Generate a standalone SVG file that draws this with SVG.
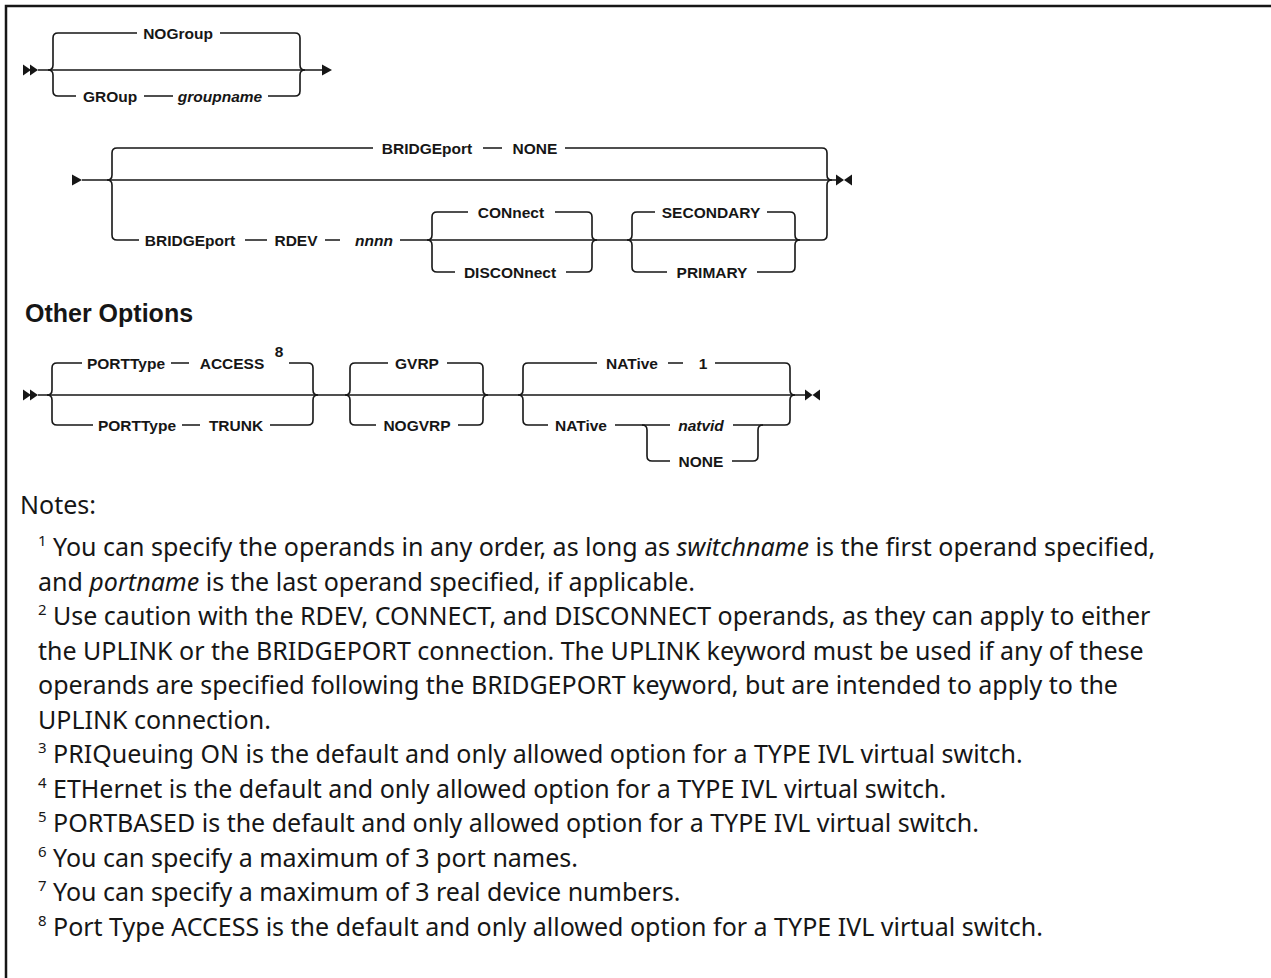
<svg xmlns="http://www.w3.org/2000/svg" width="1271" height="978" viewBox="0 0 1271 978">
<style>
.ln{fill:none;stroke:#161616;stroke-width:1.6}
.bd{fill:none;stroke:#161616;stroke-width:2.5}
.ah{fill:#161616}
.kw{font-family:"Liberation Sans",Arial,sans-serif;font-weight:bold;font-size:15.5px;fill:#161616;text-anchor:middle}
.v{font-style:italic}
.ttl{font-family:"Liberation Sans",Arial,sans-serif;font-weight:bold;font-size:25px;fill:#161616}
.nt{font-family:"Noto Sans","DejaVu Sans",sans-serif;font-size:25px;fill:#161616}
.sp{font-family:"Noto Sans","DejaVu Sans",sans-serif;font-size:15px;fill:#161616}
</style>
<rect width="1271" height="978" fill="#ffffff"/>
<path class="bd" d="M6,978 V6 H1271"/>

<g id="connectors">
<!-- diagram 1 -->
<polygon class="ah" points="23,64.5 31,70 23,75.5"/>
<polygon class="ah" points="30,64.5 38,70 30,75.5"/>
<path class="ln" d="M38,70 H322"/>
<polygon class="ah" points="322,64.5 332,70 322,75.5"/>
<path class="ln" d="M58,33 Q53,33 53,38 V65 Q53,70 48,70 Q53,70 53,75 V91 Q53,96 58,96"/>
<path class="ln" d="M295,33 Q300,33 300,38 V65 Q300,70 305,70 Q300,70 300,75 V91 Q300,96 295,96"/>
<path class="ln" d="M58,33 H137 M220,33 H295"/>
<path class="ln" d="M58,96 H76 M144,96 H173 M268,96 H295"/>

<!-- diagram 2 -->
<polygon class="ah" points="72,174.5 82,180 72,185.5"/>
<path class="ln" d="M82,180 H837"/>
<polygon class="ah" points="836,174.5 844,180 836,185.5"/>
<polygon class="ah" points="852,174.5 844,180 852,185.5"/>
<path class="ln" d="M117,148 Q112,148 112,153 V175 Q112,180 107,180 Q112,180 112,185 V235 Q112,240 117,240"/>
<path class="ln" d="M822,148 Q827,148 827,153 V175 Q827,180 832,180 Q827,180 827,185 V235 Q827,240 822,240"/>
<path class="ln" d="M117,148 H373 M483,148 H502 M565,148 H822"/>
<path class="ln" d="M117,240 H139 M245,240 H267 M325,240 H340 M400,240 H822"/>
<path class="ln" d="M437,212 Q432,212 432,217 V235 Q432,240 427,240 Q432,240 432,245 V267 Q432,272 437,272"/>
<path class="ln" d="M587,212 Q592,212 592,217 V235 Q592,240 597,240 Q592,240 592,245 V267 Q592,272 587,272"/>
<path class="ln" d="M437,212 H468 M555,212 H587 M437,272 H455 M566,272 H587"/>
<path class="ln" d="M637,212 Q632,212 632,217 V235 Q632,240 627,240 Q632,240 632,245 V267 Q632,272 637,272"/>
<path class="ln" d="M790,212 Q795,212 795,217 V235 Q795,240 800,240 Q795,240 795,245 V267 Q795,272 790,272"/>
<path class="ln" d="M637,212 H655 M767,212 H790 M637,272 H667 M757,272 H790"/>

<!-- diagram 3 -->
<polygon class="ah" points="23,389.5 31,395 23,400.5"/>
<polygon class="ah" points="30,389.5 38,395 30,400.5"/>
<path class="ln" d="M38,395 H805"/>
<polygon class="ah" points="805,389.5 812.5,395 805,400.5"/>
<polygon class="ah" points="820,389.5 812.5,395 820,400.5"/>
<path class="ln" d="M57,363 Q52,363 52,368 V390 Q52,395 47,395 Q52,395 52,400 V420 Q52,425 57,425"/>
<path class="ln" d="M308,363 Q313,363 313,368 V390 Q313,395 318,395 Q313,395 313,400 V420 Q313,425 308,425"/>
<path class="ln" d="M57,363 H82 M171,363 H189 M289,363 H308"/>
<path class="ln" d="M57,425 H93 M182,425 H200 M270,425 H308"/>
<path class="ln" d="M355,363 Q350,363 350,368 V390 Q350,395 345,395 Q350,395 350,400 V420 Q350,425 355,425"/>
<path class="ln" d="M478,363 Q483,363 483,368 V390 Q483,395 488,395 Q483,395 483,400 V420 Q483,425 478,425"/>
<path class="ln" d="M355,363 H388 M447,363 H478 M355,425 H376 M458,425 H478"/>
<path class="ln" d="M528,363 Q523,363 523,368 V390 Q523,395 518,395 Q523,395 523,400 V420 Q523,425 528,425"/>
<path class="ln" d="M785,363 Q790,363 790,368 V390 Q790,395 795,395 Q790,395 790,400 V420 Q790,425 785,425"/>
<path class="ln" d="M528,363 H597 M668,363 H683 M715,363 H785"/>
<path class="ln" d="M528,425 H548 M615,425 H670 M733,425 H785"/>
<path class="ln" d="M642,425 Q647,425 647,430 V456 Q647,461 652,461 H670 M732,461 H753 Q758,461 758,456 V430 Q758,425 763,425"/>
</g>

<g id="n-nogroup"><text class="kw" x="178" y="38.5">NOGroup</text></g>
<g id="n-group"><text class="kw" x="110" y="101.5">GROup</text><text class="kw v" x="220" y="101.5">groupname</text></g>

<g id="n-bp-none"><text class="kw" x="427" y="153.5">BRIDGEport</text><text class="kw" x="535" y="153.5">NONE</text></g>
<g id="n-bp-rdev"><text class="kw" x="190" y="245.5">BRIDGEport</text><text class="kw" x="296" y="245.5">RDEV</text><text class="kw v" x="374" y="245.5">nnnn</text></g>
<g id="n-connect"><text class="kw" x="511" y="217.5">CONnect</text></g>
<g id="n-disconnect"><text class="kw" x="510" y="277.5">DISCONnect</text></g>
<g id="n-secondary"><text class="kw" x="711" y="217.5">SECONDARY</text></g>
<g id="n-primary"><text class="kw" x="712" y="277.5">PRIMARY</text></g>

<g id="title-other"><text class="ttl" x="25" y="322">Other Options</text></g>
<g id="n-access"><text class="kw" x="126" y="368.5">PORTType</text><text class="kw" x="232" y="368.5">ACCESS</text><text class="kw" x="279" y="357">8</text></g>
<g id="n-trunk"><text class="kw" x="137" y="430.5">PORTType</text><text class="kw" x="236" y="430.5">TRUNK</text></g>
<g id="n-gvrp"><text class="kw" x="417" y="368.5">GVRP</text></g>
<g id="n-nogvrp"><text class="kw" x="417" y="430.5">NOGVRP</text></g>
<g id="n-native1"><text class="kw" x="632" y="368.5">NATive</text><text class="kw" x="703" y="368.5">1</text></g>
<g id="n-native"><text class="kw" x="581" y="430.5">NATive</text></g>
<g id="n-natvid"><text class="kw v" x="701" y="430.5">natvid</text></g>
<g id="n-none"><text class="kw" x="701" y="466.5">NONE</text></g>

<g id="notes">
<text class="nt" x="20" y="514">Notes:</text>
<text class="sp" x="38" y="546">1</text>
<text class="nt" x="53" y="556">You can specify the operands in any order, as long as <tspan font-style="italic">switchname</tspan> is the first operand specified,</text>
<text class="nt" x="38" y="590.5">and <tspan font-style="italic">portname</tspan> is the last operand specified, if applicable.</text>
<text class="sp" x="38" y="615">2</text>
<text class="nt" x="53" y="625">Use caution with the RDEV, CONNECT, and DISCONNECT operands, as they can apply to either</text>
<text class="nt" x="38" y="659.5">the UPLINK or the BRIDGEPORT connection. The UPLINK keyword must be used if any of these</text>
<text class="nt" x="38" y="694">operands are specified following the BRIDGEPORT keyword, but are intended to apply to the</text>
<text class="nt" x="38" y="728.5">UPLINK connection.</text>
<text class="sp" x="38" y="753">3</text>
<text class="nt" x="53" y="763">PRIQueuing ON is the default and only allowed option for a TYPE IVL virtual switch.</text>
<text class="sp" x="38" y="787.5">4</text>
<text class="nt" x="53" y="797.5">ETHernet is the default and only allowed option for a TYPE IVL virtual switch.</text>
<text class="sp" x="38" y="822">5</text>
<text class="nt" x="53" y="832">PORTBASED is the default and only allowed option for a TYPE IVL virtual switch.</text>
<text class="sp" x="38" y="856.5">6</text>
<text class="nt" x="53" y="866.5">You can specify a maximum of 3 port names.</text>
<text class="sp" x="38" y="891">7</text>
<text class="nt" x="53" y="901">You can specify a maximum of 3 real device numbers.</text>
<text class="sp" x="38" y="925.5">8</text>
<text class="nt" x="53" y="935.5">Port Type ACCESS is the default and only allowed option for a TYPE IVL virtual switch.</text>
</g>
</svg>
